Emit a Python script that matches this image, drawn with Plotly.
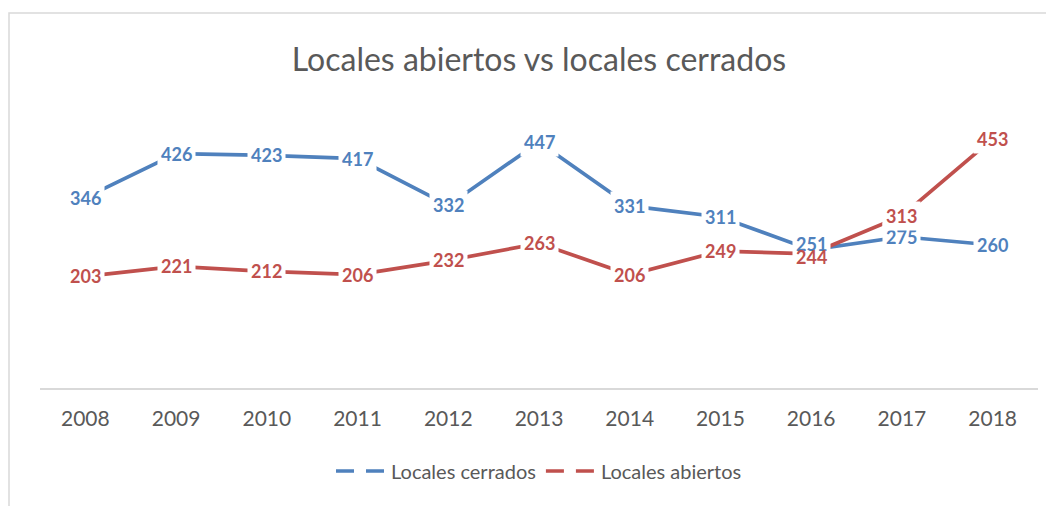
import plotly.graph_objects as go

years = ["2008", "2009", "2010", "2011", "2012", "2013", "2014", "2015", "2016", "2017", "2018"]
cerrados = [346, 426, 423, 417, 332, 447, 331, 311, 251, 275, 260]
abiertos = [203, 221, 212, 206, 232, 263, 206, 249, 244, 313, 453]

BLUE = "#4F81BD"
RED = "#C0504D"
FONT = "Lato, 'DejaVu Sans', sans-serif"
GREY = "#595959"

# page offset of the plot div (body margin)
OFF = 8
W, H = 1054 - OFF, 506 - OFF
PL, PR, PT, PB = 40, 1038, 113, 388  # plot area in page pixels

fig = go.Figure()
series = [("Locales cerrados", cerrados, BLUE), ("Locales abiertos", abiertos, RED)]
for name, vals, col in series:
    fig.add_trace(go.Scatter(x=years, y=vals, mode="lines", name=name,
                             line=dict(color=col, width=3.7), showlegend=False,
                             hoverinfo="x+y"))
for name, vals, col in series:
    fig.add_trace(go.Scatter(x=[None], y=[None], mode="lines", name=name,
                             line=dict(color=col, width=3.7, dash="18px,12px"),
                             showlegend=True))

annotations = []
for si, (name, vals, col) in enumerate(series):
    for i, v in enumerate(vals):
        crowded = (i == 8)
        annotations.append(dict(x=i, y=v, xref="x", yref="y", text="<b>%d</b>" % v,
                                showarrow=False,
                                bgcolor="rgba(255,255,255,0)" if (crowded and si == 1) else "white",
                                borderpad=3,
                                yshift=(6 if si == 0 else -3) if crowded else 0,
                                font=dict(family=FONT, size=18, color=col)))

fig.update_layout(
    width=W, height=H,
    margin=dict(l=PL - OFF, r=W - (PR - OFF), t=PT - OFF, b=H - (PB - OFF)),
    paper_bgcolor="white", plot_bgcolor="white",
    title=dict(text="Locales abiertos vs locales cerrados", x=0.5, xref="paper",
               xanchor="center", y=1 - (60 - OFF) / H, yanchor="middle",
               font=dict(family=FONT, size=32, color=GREY)),
    xaxis=dict(type="category", showgrid=False, zeroline=False, showline=True,
               linecolor="#D9D9D9", linewidth=1.5, ticks="outside", ticklen=11,
               tickcolor="rgba(0,0,0,0)", range=[-0.5, 10.5],
               tickfont=dict(family=FONT, size=21, color=GREY)),
    yaxis=dict(range=[0, 500], visible=False, showgrid=False, zeroline=False),
    legend=dict(orientation="h", x=0.5, xanchor="center", y=-(471 - PB) / (PB - PT),
                yanchor="middle",
                font=dict(family=FONT, size=20, color=GREY), itemwidth=50,
                tracegroupgap=30),
    annotations=annotations,
    shapes=[dict(type="rect", xref="paper", yref="paper",
                 x0=(9 - PL) / (PR - PL), x1=1.2, y0=-1.0, y1=(PB - 13) / (PB - PT),
                 line=dict(color="#D9D9D9", width=1.5), fillcolor="rgba(0,0,0,0)",
                 layer="below")],
)

fig.write_html("out.html")
